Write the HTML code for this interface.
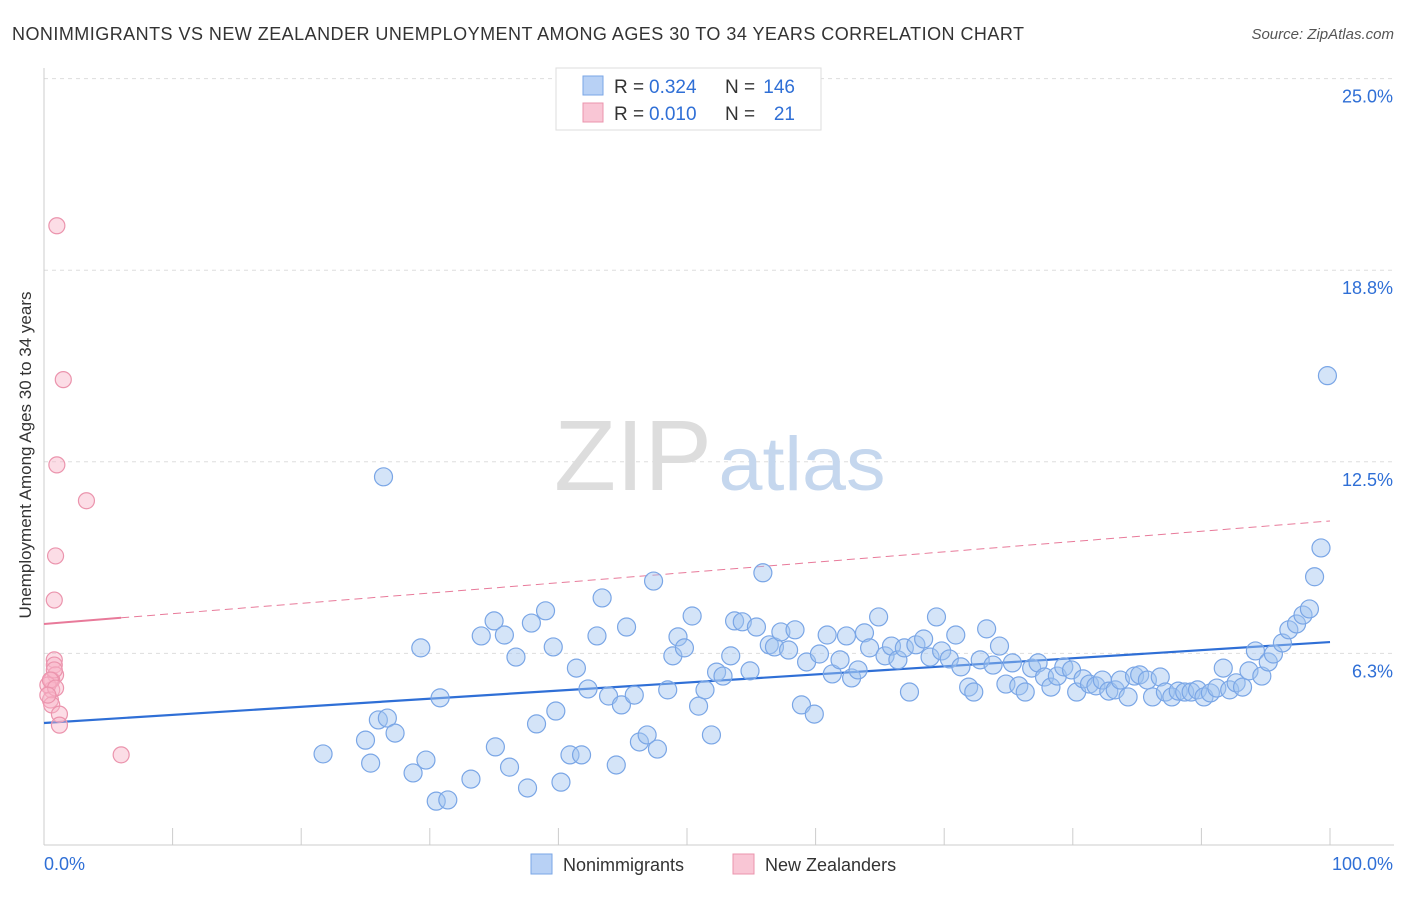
<!DOCTYPE html>
<html><head><meta charset="utf-8"><style>
body{margin:0;background:#fff;font-family:"Liberation Sans",sans-serif;}
svg text{font-family:"Liberation Sans",sans-serif;}
</style></head><body>
<svg id="chart" width="1406" height="892" viewBox="0 0 1406 892" xmlns="http://www.w3.org/2000/svg">
<text x="12" y="40" font-size="18" fill="#333" textLength="1012" lengthAdjust="spacing">NONIMMIGRANTS VS NEW ZEALANDER UNEMPLOYMENT AMONG AGES 30 TO 34 YEARS CORRELATION CHART</text>
<text x="1394" y="39" font-size="15" fill="#555" text-anchor="end" font-style="italic">Source: ZipAtlas.com</text>
<text x="31" y="455" font-size="17" fill="#333" text-anchor="middle" transform="rotate(-90 31 455)">Unemployment Among Ages 30 to 34 years</text>
<g id="grid"></g>
<g id="watermark">
<text x="633" y="490" font-size="100" fill="#ddd" text-anchor="middle" font-family="Liberation Serif, serif" textLength="158" lengthAdjust="spacingAndGlyphs">ZIP</text>
<text x="802" y="490" font-size="76" fill="#c5d7ee" text-anchor="middle" textLength="167" lengthAdjust="spacingAndGlyphs">atlas</text>
</g>
<g id="axes"></g>
<g id="trends"></g>
<g id="points"></g>
<g>
<rect x="556" y="68" width="265" height="62" fill="#fff" stroke="#ddd"/>
<rect x="583" y="76" width="20" height="19" fill="#b8d1f5" stroke="#7aa6e6"/>
<text x="614" y="93" font-size="19" fill="#333">R =</text>
<text x="649" y="93" font-size="19" fill="#2f6fd6">0.324</text>
<text x="725" y="93" font-size="19" fill="#333">N =</text>
<text x="795" y="93" font-size="19" fill="#2f6fd6" text-anchor="end">146</text>
<rect x="583" y="103" width="20" height="19" fill="#f9c6d5" stroke="#eb94ad"/>
<text x="614" y="120" font-size="19" fill="#333">R =</text>
<text x="649" y="120" font-size="19" fill="#2f6fd6">0.010</text>
<text x="725" y="120" font-size="19" fill="#333">N =</text>
<text x="795" y="120" font-size="19" fill="#2f6fd6" text-anchor="end">21</text>
</g>
<g>
<rect x="531" y="854" width="21" height="20" fill="#b8d1f5" stroke="#7aa6e6"/>
<text x="563" y="871" font-size="18" fill="#333">Nonimmigrants</text>
<rect x="733" y="854" width="21" height="20" fill="#f9c6d5" stroke="#eb94ad"/>
<text x="765" y="871" font-size="18" fill="#333">New Zealanders</text>
</g>
</svg>
<script>
const yTicks=[6.25,12.5,18.75,25];
const yTickLabels=["6.3%","12.5%","18.8%","25.0%"];
const xTickValues=[0,10,20,30,40,50,60,70,80,90,100];
const blueX=[21.7,25.0,25.4,26.0,26.7,27.3,28.7,29.3,29.7,30.8,30.5,31.4,33.2,34.0,35.0,35.1,35.8,36.2,36.7,37.6,37.9,38.3,39.0,39.6,39.8,40.2,40.9,41.4,41.8,42.3,43.0,43.4,43.9,44.5,44.9,45.3,45.9,46.3,46.9,47.4,47.7,48.5,48.9,49.3,49.8,50.4,50.9,51.4,51.9,52.3,52.8,53.4,53.7,54.3,54.9,55.4,55.9,56.4,56.8,57.3,57.9,58.4,58.9,59.3,59.9,60.3,60.9,61.3,61.9,62.4,62.8,63.3,63.8,64.2,64.9,65.4,65.9,66.4,66.9,67.3,67.8,68.4,68.9,69.4,69.8,70.4,70.9,71.3,71.9,72.3,72.8,73.3,73.8,74.3,74.8,75.3,75.8,76.3,76.8,77.3,77.8,78.3,78.8,79.3,79.9,80.3,80.8,81.3,81.8,82.3,82.8,83.3,83.7,84.3,84.8,85.2,85.8,86.2,86.8,87.2,87.7,88.2,88.7,89.2,89.7,90.2,90.7,91.2,91.7,92.2,92.7,93.2,93.7,94.2,94.7,95.2,95.6,96.3,96.8,97.4,97.9,98.4,98.8,99.3,99.8,26.4];
const blueY=[2.97,3.42,2.67,4.08,4.14,3.65,2.35,6.43,2.77,4.80,1.43,1.47,2.15,6.82,7.31,3.20,6.85,2.54,6.13,1.86,7.24,3.95,7.64,6.46,4.37,2.05,2.94,5.77,2.94,5.09,6.82,8.06,4.86,2.61,4.57,7.11,4.89,3.36,3.59,8.61,3.13,5.06,6.17,6.79,6.43,7.47,4.53,5.06,3.59,5.64,5.51,6.17,7.31,7.28,5.68,7.11,8.88,6.53,6.46,6.95,6.36,7.02,4.57,5.97,4.27,6.23,6.85,5.58,6.04,6.82,5.45,5.71,6.92,6.43,7.44,6.17,6.49,6.04,6.43,4.99,6.53,6.72,6.13,7.44,6.33,6.07,6.85,5.81,5.15,4.99,6.04,7.05,5.87,6.49,5.25,5.94,5.19,4.99,5.77,5.94,5.48,5.15,5.51,5.81,5.71,4.99,5.42,5.25,5.19,5.38,5.02,5.06,5.38,4.83,5.51,5.55,5.38,4.83,5.48,4.99,4.83,5.02,4.99,4.99,5.06,4.83,4.96,5.12,5.77,5.06,5.29,5.15,5.68,6.33,5.51,5.97,6.23,6.59,7.02,7.21,7.50,7.70,8.75,9.69,15.31,12.01];
const pinkX=[1.0,1.5,1.0,3.3,0.9,0.8,0.8,0.8,0.9,0.6,0.6,0.3,0.5,0.6,1.2,1.2,6.0,0.8,0.5,0.9,0.3];
const pinkY=[20.20,15.18,12.40,11.23,9.43,7.99,6.04,5.87,5.55,5.38,5.06,5.22,4.73,4.57,4.27,3.91,2.94,5.71,5.38,5.12,4.89];
const blueTrend=[3.98,6.62];
const pinkTrend=[7.21,10.57];
const NS="http://www.w3.org/2000/svg";
const X0=44,X1=1330,Y0=845,PX_PER=191.6/6.25;
const xs=v=>X0+(X1-X0)*v/100;
const ys=v=>Y0-v*PX_PER;
function mk(tag,attrs,parent){const e=document.createElementNS(NS,tag);for(const k in attrs)e.setAttribute(k,attrs[k]);parent.appendChild(e);return e;}
const grid=document.getElementById('grid'),axes=document.getElementById('axes');
yTicks.forEach((t,i)=>{
 const l=mk('line',{x1:44,x2:1394,y1:ys(t),y2:ys(t),stroke:'#ddd','stroke-dasharray':'4,4'},grid);
 
 
 const tx=mk('text',{x:1393,y:ys(t)+24,'font-size':18,fill:'#2f6fd6','text-anchor':'end'},axes);
 tx.textContent=yTickLabels[i];
 
 
});
const ax=mk('line',{x1:44,x2:1394,y1:845,y2:845,stroke:'#ccc'},axes);


const ay=mk('line',{x1:44,x2:44,y1:68,y2:845,stroke:'#ccc'},axes);


xTickValues.forEach(t=>{
 const l=mk('line',{x1:xs(t),x2:xs(t),y1:828,y2:845,stroke:'#ccc'},axes);
 
 
});
const xl0=mk('text',{x:44,y:870,'font-size':18,fill:'#2f6fd6'},axes);xl0.textContent='0.0%';


const xl1=mk('text',{x:1393,y:870,'font-size':18,fill:'#2f6fd6','text-anchor':'end'},axes);xl1.textContent='100.0%';


const pts=document.getElementById('points');
blueX.forEach((x,i)=>{
 const c=mk('circle',{cx:xs(x),cy:ys(blueY[i]),r:9,fill:'rgba(160,195,240,0.45)',stroke:'#7aa6e6','stroke-width':1.2},pts);
 
 
});
pinkX.forEach((x,i)=>{
 const c=mk('circle',{cx:xs(x),cy:ys(pinkY[i]),r:8,fill:'rgba(248,180,200,0.45)',stroke:'#eb94ad','stroke-width':1.2},pts);
 
 
});
const tr=document.getElementById('trends');
const bt=mk('line',{x1:xs(0),y1:ys(blueTrend[0]),x2:xs(100),y2:ys(blueTrend[1]),stroke:'#2f6fd6','stroke-width':2.2},tr);


const pv=x=>pinkTrend[0]+(pinkTrend[1]-pinkTrend[0])*x/100;
const pd=mk('line',{x1:xs(6),y1:ys(pv(6)),x2:xs(100),y2:ys(pv(100)),stroke:'#e87a9a','stroke-width':1,'stroke-dasharray':'8,5'},tr);


const ps=mk('line',{x1:xs(0),y1:ys(pv(0)),x2:xs(6),y2:ys(pv(6)),stroke:'#e87a9a','stroke-width':2},tr);


</script>
</body></html>
